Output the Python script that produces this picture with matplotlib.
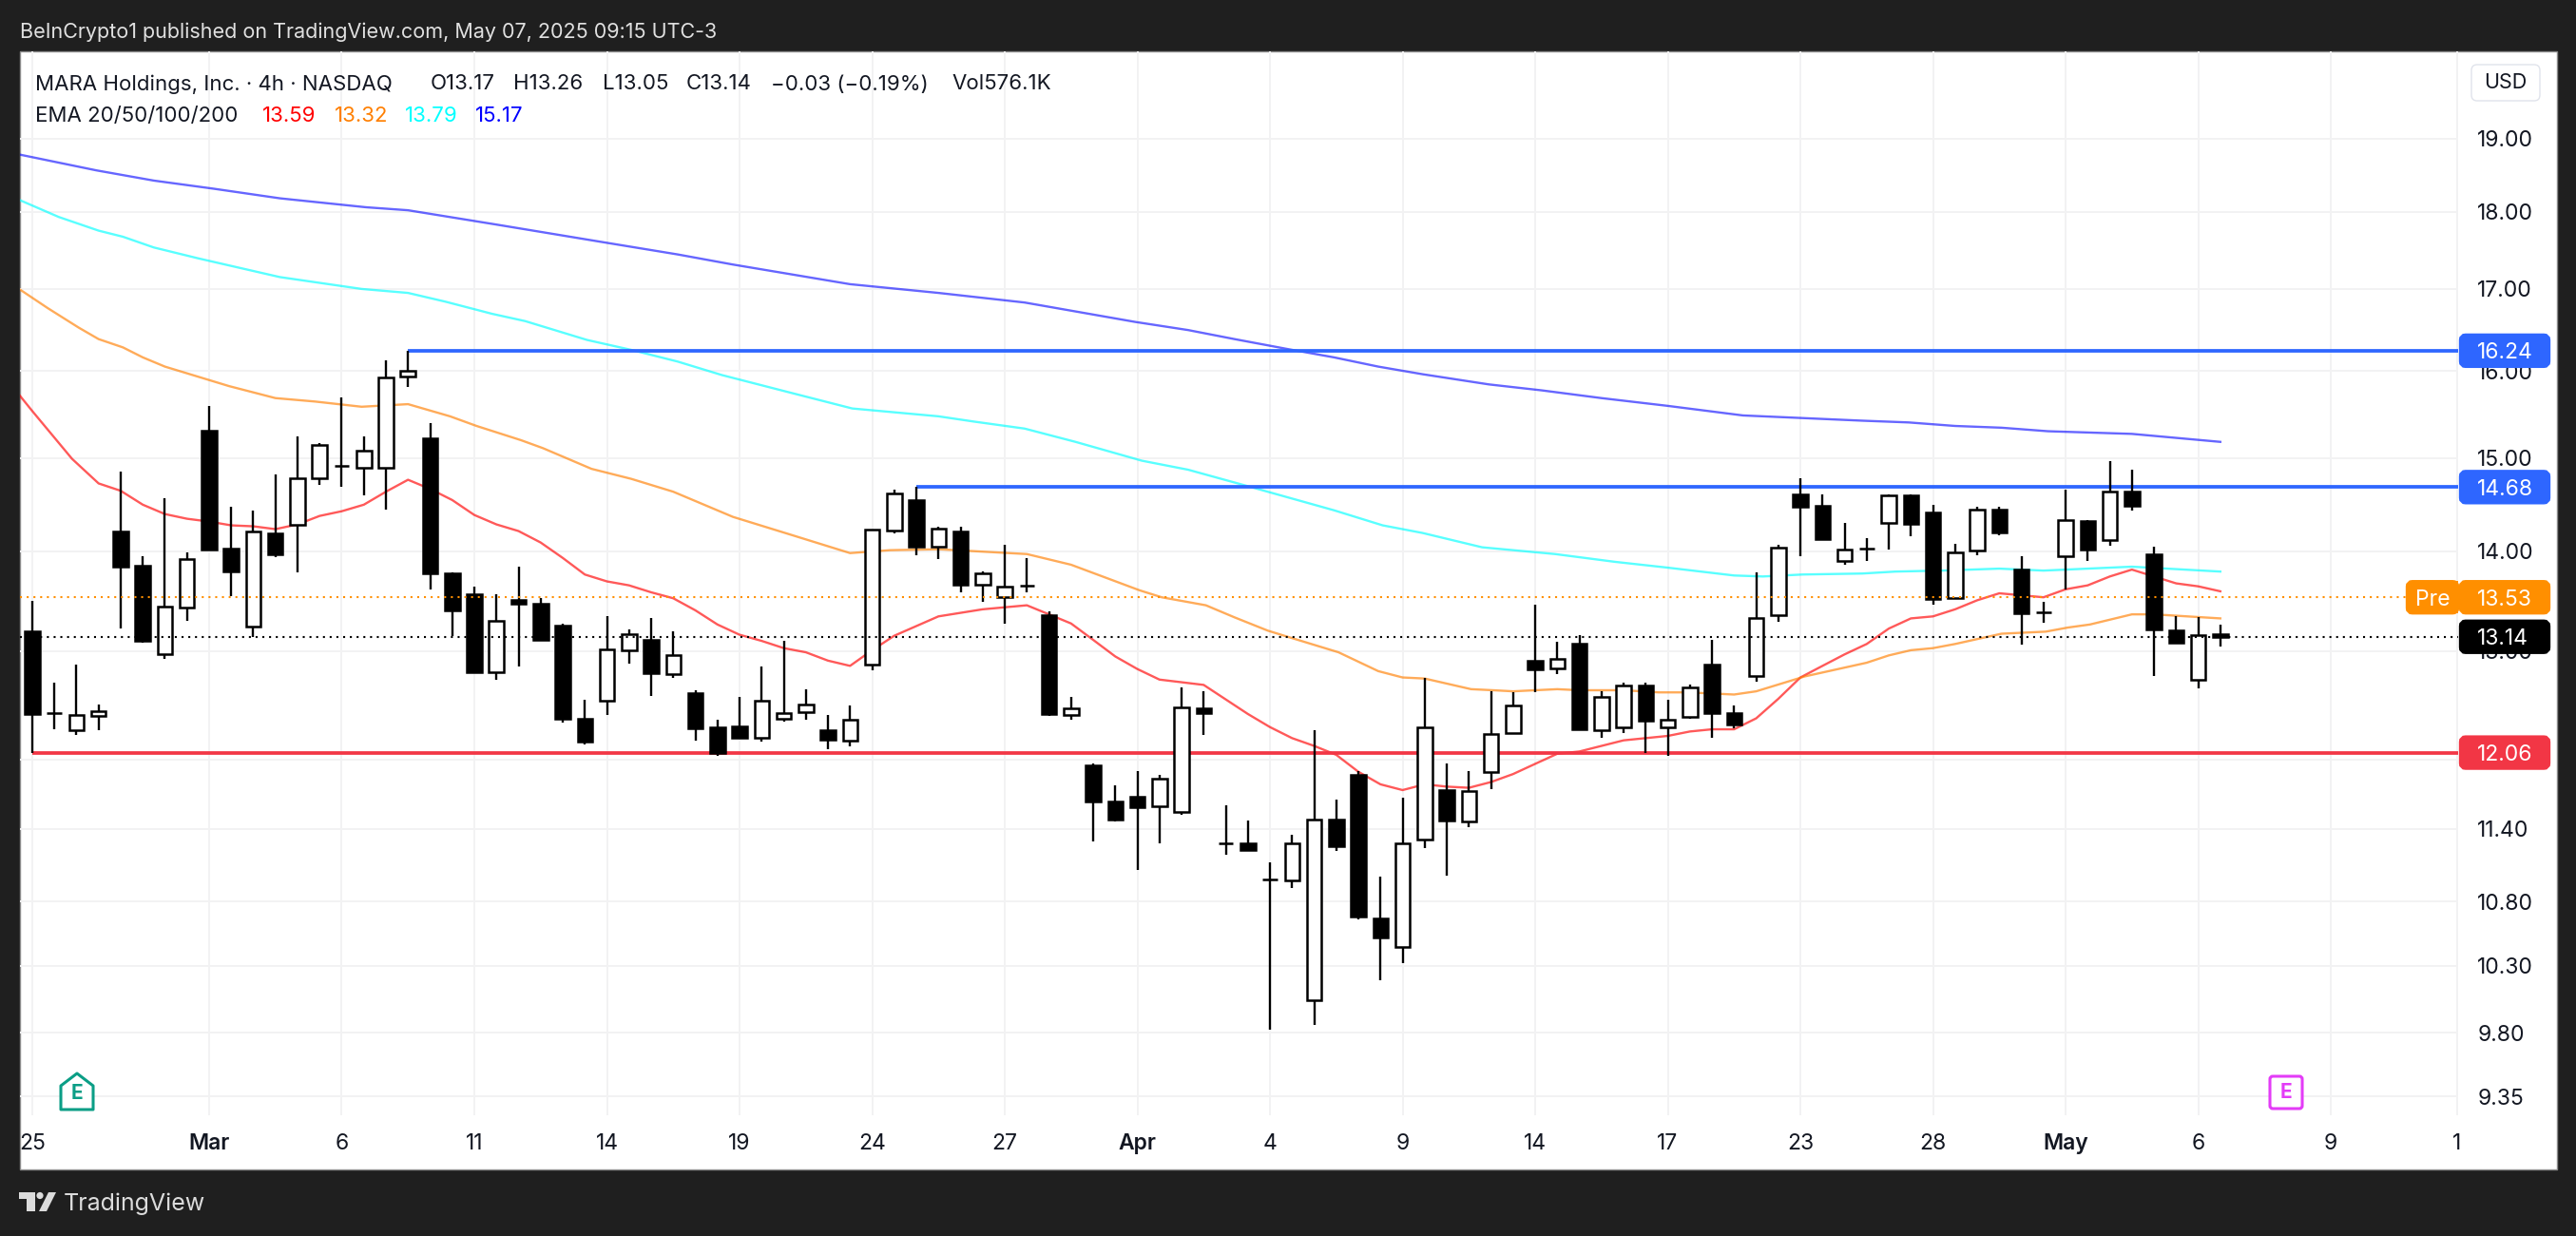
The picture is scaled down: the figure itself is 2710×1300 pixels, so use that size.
import matplotlib
matplotlib.use('Agg')
import matplotlib.pyplot as plt
from matplotlib.patches import Rectangle, FancyBboxPatch, Polygon, Circle
from matplotlib.ticker import NullLocator
import numpy as np

plt.rcParams['font.family'] = ['Inter', 'DejaVu Sans']

W, H = 2710, 1300

# 4h candles
opens = [13.19, 12.42, 12.26, 12.39, 14.21, 13.85, 12.97, 13.43, 15.31, 14.03,
         13.24, 14.19, 14.28, 14.78, 14.91, 14.89, 14.89, 15.93, 15.22, 13.77,
         13.56, 12.80, 13.50, 13.47, 13.25, 12.37, 12.53, 13.01, 13.11, 12.78,
         12.60, 12.29, 12.30, 12.19, 12.37, 12.43, 12.26, 12.17, 12.87, 14.22,
         14.54, 14.05, 14.21, 13.66, 13.53, 13.65, 13.35, 12.40, 11.95, 11.63,
         11.67, 11.59, 11.54, 12.46, 11.28, 11.28, 10.98, 10.97, 10.04, 11.48,
         11.86, 10.67, 10.44, 11.31, 11.73, 11.46, 11.89, 12.24, 12.91, 12.84,
         13.07, 12.26, 12.29, 12.67, 12.29, 12.38, 12.87, 12.42, 12.76, 13.35,
         14.60, 14.48, 13.90, 14.03, 14.30, 14.59, 14.41, 13.52, 14.01, 14.44,
         13.81, 13.38, 13.95, 14.32, 14.12, 14.63, 13.97, 13.20, 12.73, 13.17]
highs = [13.49, 12.70, 12.87, 12.50, 14.85, 13.95, 14.56, 13.99, 15.59, 14.47,
         14.43, 14.82, 15.24, 15.17, 15.69, 15.24, 16.13, 16.24, 15.39, 13.78,
         13.64, 13.56, 13.84, 13.52, 13.27, 12.54, 13.34, 13.21, 13.32, 13.19,
         12.63, 12.36, 12.57, 12.85, 13.10, 12.64, 12.40, 12.49, 14.23, 14.65,
         14.68, 14.26, 14.26, 13.79, 14.07, 13.93, 13.39, 12.57, 11.96, 11.77,
         11.90, 11.86, 12.66, 12.62, 11.60, 11.47, 11.12, 11.35, 12.26, 11.65,
         11.90, 11.00, 11.66, 12.75, 11.96, 11.90, 12.62, 12.61, 13.46, 13.09,
         13.16, 12.62, 12.70, 12.70, 12.54, 12.68, 13.11, 12.49, 13.78, 14.07,
         14.78, 14.60, 14.30, 14.14, 14.60, 14.60, 14.49, 14.08, 14.47, 14.47,
         13.95, 13.48, 14.65, 14.33, 14.97, 14.87, 14.05, 13.34, 13.33, 13.26]
lows = [12.06, 12.27, 12.22, 12.26, 13.22, 13.08, 12.93, 13.30, 14.01, 13.54,
        13.14, 13.94, 13.78, 14.70, 14.68, 14.59, 14.44, 15.81, 13.61, 13.15,
        12.80, 12.73, 12.85, 13.11, 12.33, 12.13, 12.40, 12.88, 12.58, 12.75,
        12.17, 12.03, 12.19, 12.16, 12.34, 12.36, 12.09, 12.12, 12.82, 14.19,
        13.96, 13.92, 13.58, 13.48, 13.27, 13.58, 12.39, 12.36, 11.29, 11.46,
        11.06, 11.28, 11.52, 12.22, 11.18, 11.21, 9.82, 10.91, 9.86, 11.21,
        10.66, 10.19, 10.32, 11.24, 11.01, 11.41, 11.74, 12.23, 12.61, 12.78,
        12.26, 12.19, 12.24, 12.06, 12.03, 12.37, 12.19, 12.28, 12.71, 13.29,
        13.95, 14.12, 13.86, 13.90, 14.02, 14.16, 13.46, 13.52, 13.96, 14.17,
        13.06, 13.28, 13.61, 13.90, 14.06, 14.43, 12.76, 13.07, 12.65, 13.05]
closes = [12.41, 12.42, 12.40, 12.44, 13.84, 13.10, 13.44, 13.92, 14.02, 13.79,
          14.21, 13.97, 14.78, 15.14, 14.91, 15.08, 15.92, 16.00, 13.77, 13.40,
          12.80, 13.30, 13.47, 13.11, 12.37, 12.16, 13.02, 13.17, 12.79, 12.96,
          12.28, 12.06, 12.19, 12.53, 12.42, 12.50, 12.18, 12.36, 14.23, 14.61,
          14.05, 14.24, 13.66, 13.77, 13.64, 13.65, 12.41, 12.46, 11.63, 11.48,
          11.58, 11.83, 12.47, 12.42, 11.28, 11.22, 10.98, 11.28, 11.48, 11.25,
          10.68, 10.52, 11.28, 12.29, 11.47, 11.72, 12.23, 12.49, 12.83, 12.93,
          12.27, 12.57, 12.67, 12.35, 12.36, 12.66, 12.42, 12.31, 13.32, 14.04,
          14.47, 14.13, 14.02, 14.03, 14.59, 14.29, 13.51, 13.99, 14.44, 14.20,
          13.37, 13.38, 14.33, 14.02, 14.63, 14.48, 13.21, 13.08, 13.16, 13.14]

# EMA lines, bar position and value at the visible bends
ema20_x = [-0.6, 0, 1.8, 3, 4, 5, 6, 7, 8, 9, 10, 11, 12, 13, 14, 15, 16, 17, 18, 19, 20, 21,
           22, 23, 24, 25, 26, 27, 28, 29, 30, 31, 32, 33, 34, 35, 36, 37, 38, 39, 41, 43, 44,
           45, 46, 47, 48, 49, 50, 51, 53, 55, 56, 57, 58, 59, 60, 61, 62, 63, 64, 65, 66, 67,
           68, 69, 70, 71, 72, 74, 75, 76, 77, 78, 79, 80, 81, 82, 83, 84, 85, 86, 87, 88, 89,
           91, 92, 93, 94, 95, 96, 97, 98, 99]
ema20 = [15.72, 15.53, 14.99, 14.72, 14.64, 14.49, 14.39, 14.34, 14.31, 14.27, 14.26, 14.23,
         14.28, 14.37, 14.42, 14.49, 14.63, 14.76, 14.66, 14.54, 14.38, 14.28, 14.21, 14.09,
         13.93, 13.76, 13.69, 13.65, 13.58, 13.52, 13.40, 13.26, 13.16, 13.10, 13.03, 12.99,
         12.91, 12.86, 13.01, 13.15, 13.34, 13.41, 13.43, 13.45, 13.36, 13.27, 13.11, 12.95,
         12.83, 12.73, 12.68, 12.41, 12.29, 12.19, 12.12, 12.04, 11.89, 11.78, 11.73, 11.78,
         11.76, 11.75, 11.80, 11.87, 11.96, 12.05, 12.07, 12.12, 12.17, 12.21, 12.25, 12.27,
         12.27, 12.37, 12.55, 12.75, 12.86, 12.97, 13.07, 13.22, 13.32, 13.34, 13.41, 13.50,
         13.57, 13.53, 13.61, 13.65, 13.74, 13.81, 13.74, 13.67, 13.64, 13.59]
ema50_x = [-0.6, 0.7, 2.1, 3, 4.1, 5, 6, 8.9, 11, 12.8, 14.9, 17, 18.9, 20.1, 22.1, 23.1, 25.3,
           27.1, 29, 31.7, 34.2, 37, 38.8, 41, 45, 47, 50.1, 51.1, 53.1, 54.4, 55.9, 56.8, 59.1,
           60.9, 62, 63, 65.1, 66.1, 67, 69, 70, 71.1, 72, 73.6, 74.9, 77, 78, 80.2, 83, 84, 85,
           86, 87, 89.1, 91.1, 92.1, 93.1, 95, 96, 99]
ema50 = [17.00, 16.76, 16.52, 16.38, 16.28, 16.16, 16.05, 15.82, 15.68, 15.64, 15.58, 15.61,
         15.47, 15.36, 15.20, 15.11, 14.88, 14.77, 14.63, 14.36, 14.18, 13.98, 14.01, 14.02,
         13.97, 13.86, 13.60, 13.53, 13.45, 13.33, 13.20, 13.14, 12.99, 12.81, 12.75, 12.74,
         12.64, 12.63, 12.62, 12.64, 12.63, 12.63, 12.63, 12.61, 12.61, 12.59, 12.62, 12.76,
         12.89, 12.96, 13.01, 13.03, 13.07, 13.17, 13.19, 13.23, 13.26, 13.36, 13.36, 13.32]
ema100_x = [-0.6, 1.2, 3, 4.1, 5.5, 7.5, 11.2, 14.9, 17, 18.7, 20.8, 22.3, 25.1, 27.1, 29.2, 31.2,
            34.2, 37.1, 41, 42.6, 44.9, 47.2, 50.2, 52.3, 55, 58.9, 61.1, 62.9, 65.6, 68.9, 71.6,
            74, 77, 78.3, 80.1, 82.8, 84.3, 86.4, 89, 91, 93, 95, 99]
ema100 = [18.16, 17.93, 17.75, 17.67, 17.53, 17.39, 17.15, 17.00, 16.95, 16.84, 16.69, 16.60,
          16.37, 16.25, 16.11, 15.95, 15.75, 15.56, 15.47, 15.41, 15.33, 15.18, 14.97, 14.87,
          14.69, 14.43, 14.27, 14.19, 14.04, 13.97, 13.89, 13.83, 13.75, 13.74, 13.76, 13.77,
          13.79, 13.80, 13.82, 13.80, 13.82, 13.84, 13.79]
ema200_x = [-0.6, 2.9, 5.5, 8.2, 11.2, 15.1, 17, 21, 25.8, 29.2, 31.7, 37, 41, 44.9, 49.9, 52.3,
            54.4, 56.8, 58.9, 60.9, 62.9, 65.9, 68.3, 71, 74, 77.4, 80.1, 82.8, 84.9, 87, 89.1,
            91.2, 95, 99]
ema200 = [18.78, 18.56, 18.42, 18.31, 18.18, 18.06, 18.02, 17.83, 17.60, 17.44, 17.31, 17.06,
          16.95, 16.83, 16.59, 16.49, 16.38, 16.26, 16.16, 16.05, 15.96, 15.84, 15.77, 15.68,
          15.59, 15.48, 15.45, 15.42, 15.40, 15.36, 15.34, 15.30, 15.27, 15.18]

# axes labels
price_ticks = [9.35, 9.80, 10.30, 10.80, 11.40, 12.00, 13.00, 14.00, 15.00, 16.00, 17.00, 18.00, 19.00]
price_labels = ['9.35', '9.80', '10.30', '10.80', '11.40', '', '13.00', '14.00', '15.00', '16.00',
                '17.00', '18.00', '19.00']
date_pos = [0, 8, 14, 20, 26, 32, 38, 44, 50, 56, 62, 68, 74, 80, 86, 92, 98, 104, 109.7]
date_labels = ['25', 'Mar', '6', '11', '14', '19', '24', '27', 'Apr', '4', '9', '14', '17', '23',
               '28', 'May', '6', '9', '1']

support_level = 12.06
resist_low = 14.68
resist_high = 16.24
pre_price = 13.53
last_price = 13.14

DARK = '#1f1f1f'
INK = '#131722'
GRID = '#f2f2f3'
BLUE = '#2e66ff'
RED = '#f23645'
ORANGE = '#ff8f00'

fig = plt.figure(figsize=(W / 100, H / 100), dpi=100, facecolor=DARK)

# pixel layer under the chart
bg = fig.add_axes([0, 0, 1, 1], zorder=0)
bg.set_xlim(0, W)
bg.set_ylim(H, 0)
bg.axis('off')
bg.add_patch(Rectangle((20.5, 54), 2669.5, 1176, fc='white', ec='#8c8c8c', lw=1))

# main chart
ax_l, ax_r, ax_t, ax_b = 20.5, 2586, 54, 1173
ax = fig.add_axes([ax_l / W, 1 - ax_b / H, (ax_r - ax_l) / W, (ax_b - ax_t) / H], zorder=1)
ax.patch.set_alpha(0)
ax.set_yscale('log')
ax.set_xlim(-0.58, 109.76)
ax.set_ylim(9.22, 20.27)
for s in ax.spines.values():
    s.set_visible(False)

ax.yaxis.set_major_locator(plt.FixedLocator(price_ticks))
ax.yaxis.set_minor_locator(NullLocator())
ax.yaxis.set_major_formatter(plt.FixedFormatter(price_labels))
ax.yaxis.tick_right()
ax.set_xticks(date_pos)
ax.set_xticklabels(date_labels)
ax.tick_params(axis='y', length=0, pad=14.5, labelsize=16.5, labelcolor=INK)
ax.tick_params(axis='x', length=0, pad=14, labelsize=16.5, labelcolor=INK)
for lab in ax.get_xticklabels():
    if lab.get_text() in ('Mar', 'Apr', 'May'):
        lab.set_fontweight('semibold')
ax.grid(True, color=GRID, lw=1.4, zorder=0)
ax.set_axisbelow(True)

# EMAs
ax.plot(ema20_x, ema20, color='#ff0000', alpha=0.65, lw=1.7, zorder=2)
ax.plot(ema50_x, ema50, color='#ff7f00', alpha=0.65, lw=1.7, zorder=2)
ax.plot(ema100_x, ema100, color='#00ffff', alpha=0.65, lw=1.7, zorder=2)
ax.plot(ema200_x, ema200, color='#0000ff', alpha=0.6, lw=1.7, zorder=2)

# horizontal levels
ax.hlines(resist_high, 17, 109.76, color=BLUE, lw=2.7, zorder=2.5)
ax.hlines(resist_low, 40, 109.76, color=BLUE, lw=2.7, zorder=2.5)
ax.hlines(support_level, 0, 109.76, color=RED, lw=2.7, zorder=2.5)

# candles
idx = np.arange(len(opens))
o = np.array(opens)
c = np.array(closes)
up = c >= o
ax.vlines(idx, lows, highs, color='black', lw=1.7, zorder=3)
ax.bar(idx[up], (c - o)[up], bottom=o[up], width=0.667, color='white', edgecolor='black', lw=1.8, zorder=4)
ax.bar(idx[~up], (o - c)[~up], bottom=c[~up], width=0.667, color='black', edgecolor='black', lw=1.8, zorder=4)

# dotted price lines
ax.plot([-0.58, 107.4], [pre_price, pre_price], color=ORANGE, lw=1.5, ls=(0, (1, 2.4)), zorder=6)
ax.plot([-0.58, 109.76], [last_price, last_price], color='black', lw=1.5, ls=(0, (1, 2.4)), zorder=6)

# pixel layer over the chart
top = fig.add_axes([0, 0, 1, 1], zorder=2)
top.set_xlim(0, W)
top.set_ylim(H, 0)
top.axis('off')
top.patch.set_alpha(0)


def y_pix(price):
    return H - ax.transData.transform((0, price))[1]


def price_box(price, label, color):
    y = y_pix(price)
    top.add_patch(FancyBboxPatch((2591, y - 14), 88, 28, boxstyle='round,pad=0,rounding_size=3',
                                 fc=color, ec=color, lw=6))
    top.text(2606, y, label, color='white', fontsize=16.5, va='center_baseline', ha='left')


price_box(resist_high, '16.24', BLUE)
price_box(resist_low, '14.68', BLUE)
price_box(pre_price, '13.53', ORANGE)
price_box(last_price, '13.14', 'black')
price_box(support_level, '12.06', RED)

y_pre = y_pix(pre_price)
top.add_patch(FancyBboxPatch((2535, y_pre - 14), 48, 28, boxstyle='round,pad=0,rounding_size=3',
                             fc=ORANGE, ec=ORANGE, lw=6))
top.add_patch(Rectangle((2575, y_pre - 17), 11, 34, fc=ORANGE, ec='none'))
top.text(2541, y_pre, 'Pre', color='white', fontsize=16.5, va='center_baseline', ha='left')

# header texts
top.text(21, 33.5, 'BeInCrypto1 published on TradingView.com, May 07, 2025 09:15 UTC-3',
         color='#e0e0e0', fontsize=15.5, va='center', ha='left')
head = [(36.7, 'MARA Holdings, Inc. · 4h · NASDAQ'), (453, 'O13.17'), (540, 'H13.26'), (633.5, 'L13.05'),
        (722, 'C13.14'), (811, '−0.03 (−0.19%)'), (1001, 'Vol576.1K')]
for x, s in head:
    top.text(x, 88.5, s, color=INK, fontsize=16, va='center', ha='left')
top.text(36.7, 121.5, 'EMA 20/50/100/200', color=INK, fontsize=16, va='center', ha='left')
legend_vals = [(275.5, '13.59', '#ff0000'), (352, '13.32', '#ff7f00'), (426, '13.79', '#00ffff'),
               (500, '15.17', '#0000ff')]
for x, s, col in legend_vals:
    top.text(x, 121.5, s, color=col, fontsize=16, va='center', ha='left')

# USD button
top.add_patch(FancyBboxPatch((2600, 68), 72, 38, boxstyle='round,pad=0,rounding_size=6',
                             fc='white', ec='#e0e3eb', lw=1))
top.text(2636, 87, 'USD', color=INK, fontsize=15.5, va='center', ha='center')

# earnings markers
green = '#0b9e86'
top.add_patch(Polygon([(64, 1142), (81, 1129), (98, 1142), (98, 1167), (64, 1167)], closed=True,
                      fc='white', ec=green, lw=2.2, joinstyle='round'))
top.text(81, 1150, 'E', color=green, fontsize=15, fontweight='bold', va='center', ha='center')
pink = '#e33cf7'
top.add_patch(FancyBboxPatch((2388, 1132), 34, 34, boxstyle='round,pad=0,rounding_size=3',
                             fc='white', ec=pink, lw=2.2))
top.text(2405, 1149, 'E', color=pink, fontsize=15, fontweight='bold', va='center', ha='center')

# TradingView logo
logo = '#dcdcdc'
top.add_patch(Polygon([(20, 1254), (37, 1254), (37, 1274), (28, 1274), (28, 1261), (20, 1261)], fc=logo, ec='none'))
top.add_patch(Circle((42, 1257.5), 3.6, fc=logo, ec='none'))
top.add_patch(Polygon([(51, 1254), (59, 1254), (49, 1274), (41, 1274)], fc=logo, ec='none'))
top.text(67, 1266, 'TradingView', color=logo, fontsize=18, va='center', ha='left')

fig.savefig('out.png', dpi=100, facecolor=DARK)
